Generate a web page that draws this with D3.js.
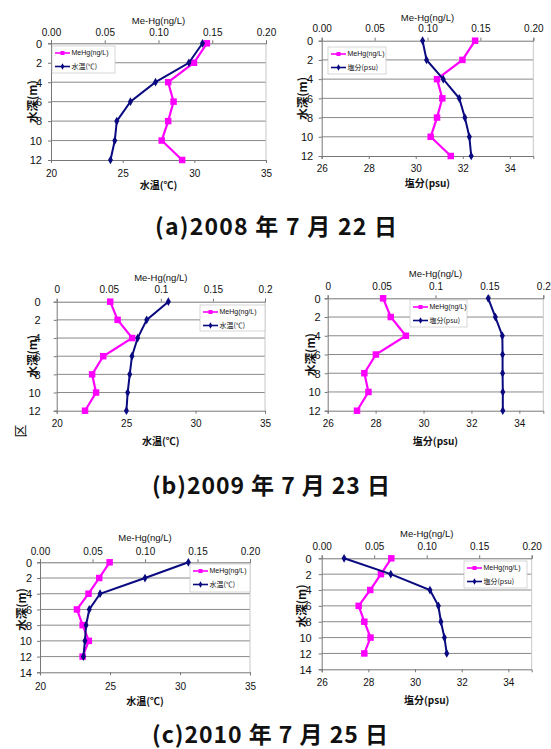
<!DOCTYPE html>
<html>
<head>
<meta charset="utf-8">
<script src="https://cdn.jsdelivr.net/npm/d3@7"></script>
<style>
  body { margin: 0; background: #fff; }
  svg { display: block; }
  text { font-family: "Liberation Sans", Arial, sans-serif; fill: #111; }
  .jp { font-family: "Noto Sans CJK JP", sans-serif; }
</style>
</head>
<body>
<svg id="fig" width="551" height="749"></svg>
<script>
// depth profile data
const depths = [0, 2, 4, 6, 8, 10, 12]

const mehg2008 = [0.145, 0.133, 0.109, 0.114, 0.109, 0.103, 0.122]
const temp2008 = [30.57, 29.62, 27.29, 25.54, 24.59, 24.45, 24.15]
const sal2008 = [30.29, 30.46, 31.17, 31.85, 32.09, 32.28, 32.36]

const mehg2009 = [0.0514, 0.0585, 0.0725, 0.0447, 0.034, 0.0378, 0.0272]
const temp2009 = [28.04, 26.48, 25.83, 25.42, 25.26, 25.11, 25.02]
const sal2009 = [32.7, 33.0, 33.29, 33.3, 33.3, 33.31, 33.31]

const mehg2010 = [0.0663, 0.0564, 0.0462, 0.0352, 0.0406, 0.0465, 0.0406]
const temp2010 = [30.6, 27.5, 24.29, 23.52, 23.29, 23.21, 23.1]
const sal2010 = [26.96, 28.96, 30.64, 31.0, 31.11, 31.26, 31.36]

// ticks
const mehgTicks = [0, 0.05, 0.1, 0.15, 0.2]
const mehgLabelsLong = ['0.00', '0.05', '0.10', '0.15', '0.20']
const mehgLabelsShort = ['0', '0.05', '0.1', '0.15', '0.2']
const tempTicks = [20, 25, 30, 35]
const salTicks = [26, 28, 30, 32, 34]
const depthTicks12 = [0, 2, 4, 6, 8, 10, 12]
const depthTicks14 = [0, 2, 4, 6, 8, 10, 12, 14]

const captions = ['(a)2008 年 7 月 22 日', '(b)2009 年 7 月 23 日', '(c)2010 年 7 月 25 日']
const mehgName = 'MeHg(ng/L)'
const topTitle = 'Me-Hg(ng/L)'
const depthTitle = '水深(m)'
const tempName = '水温(℃)'
const salName = '塩分(psu)'

const PINK = '#ff00ff'
const NAVY = '#0a0a80'

const svg = d3.select('#fig')

// layout of each small chart
const panels = [
  { x0: 51, x1: 266, y0: 43.3, y1: 160, dMax: 12, dTicks: depthTicks12, mehg: mehg2008, other: temp2008,
    oDomain: [20, 35], oTicks: tempTicks, oName: tempName, topLabels: mehgLabelsLong,
    off: { tl: -11, tt: -23, bl: 13, bt: 25, yt: -18, yl: -9 }, leg: { x: 52, y: 46, w: 63, h: 27 } },
  { x0: 321.7, x1: 533.3, y0: 40.7, y1: 156, dMax: 12, dTicks: depthTicks12, mehg: mehg2008, other: sal2008,
    oDomain: [26, 35], oTicks: salTicks, oName: salName, topLabels: mehgLabelsLong,
    off: { tl: -12.5, tt: -23.5, bl: 12, bt: 27, yt: -18.5, yl: -8.5 }, leg: { x: 328, y: 47, w: 58, h: 27 } },
  { x0: 56.7, x1: 265, y0: 301.7, y1: 410.7, dMax: 12, dTicks: depthTicks12, mehg: mehg2009, other: temp2009,
    oDomain: [20, 35], oTicks: tempTicks, oName: tempName, topLabels: mehgLabelsShort,
    off: { tl: -12.5, tt: -24.5, bl: 12.5, bt: 31, yt: -23.5, yl: -16 }, leg: { x: 200, y: 305, w: 65, h: 26 } },
  { x0: 327.7, x1: 543.3, y0: 298.3, y1: 410.7, dMax: 12, dTicks: depthTicks12, mehg: mehg2009, other: sal2009,
    oDomain: [26, 35], oTicks: salTicks, oName: salName, topLabels: mehgLabelsShort,
    off: { tl: -11.5, tt: -24.3, bl: 13.3, bt: 31, yt: -17, yl: -7 }, leg: { x: 410, y: 300, w: 57, h: 27 } },
  { x0: 40, x1: 250, y0: 562.3, y1: 672.3, dMax: 14, dTicks: depthTicks14, mehg: mehg2010, other: temp2010,
    oDomain: [20, 35], oTicks: tempTicks, oName: tempName, topLabels: mehgLabelsLong,
    off: { tl: -11.3, tt: -24.6, bl: 14.4, bt: 29.4, yt: -18.3, yl: -8 }, leg: { x: 190, y: 564, w: 60, h: 28 } },
  { x0: 321.7, x1: 531.7, y0: 558.3, y1: 669.3, dMax: 14, dTicks: depthTicks14, mehg: mehg2010, other: sal2010,
    oDomain: [26, 35], oTicks: salTicks, oName: salName, topLabels: mehgLabelsLong,
    off: { tl: -11.6, tt: -25, bl: 13.4, bt: 30.7, yt: -20, yl: -10 }, leg: { x: 464, y: 561, w: 63, h: 27 } }
]

const captionPos = [
  { x: 155, y: 227, w: 242 },
  { x: 152, y: 486, w: 238 },
  { x: 152, y: 735, w: 236 }
]

function styleAxis(sel) {
  sel.select('.domain').attr('stroke', '#777')
  sel.selectAll('.tick line').attr('stroke', '#777')
  sel.selectAll('text').attr('font-size', 10).attr('fill', '#111')
}

function drawPanel(p) {
  const g = svg.append('g')

  const x = d3.scaleLinear().domain([0, 0.2]).range([p.x0, p.x1])
  const xo = d3.scaleLinear().domain(p.oDomain).range([p.x0, p.x1])
  const y = d3.scaleLinear().domain([0, p.dMax]).range([p.y0, p.y1])

  // horizontal grid
  g.append('g').selectAll('line')
    .data(p.dTicks.filter(d => d > 0 && d < p.dMax))
    .join('line')
    .attr('x1', p.x0).attr('x2', p.x1)
    .attr('y1', d => y(d)).attr('y2', d => y(d))
    .attr('stroke', '#8a8a8a').attr('stroke-width', 1)

  g.append('line')
    .attr('x1', p.x1).attr('x2', p.x1).attr('y1', p.y0).attr('y2', p.y1)
    .attr('stroke', '#c8c8c8')

  // axes
  const top = g.append('g').attr('transform', `translate(0,${p.y0})`)
    .call(d3.axisTop(x).tickValues(mehgTicks).tickFormat((d, i) => p.topLabels[i]).tickSizeOuter(0).tickSize(3))
  top.selectAll('text').attr('y', p.off.tl).attr('dy', '0.35em')
  styleAxis(top)

  const bottom = g.append('g').attr('transform', `translate(0,${p.y1})`)
    .call(d3.axisBottom(xo).tickValues(p.oTicks).tickSizeOuter(0).tickSize(3))
  bottom.selectAll('text').attr('y', p.off.bl).attr('dy', '0.35em')
  styleAxis(bottom)

  const left = g.append('g').attr('transform', `translate(${p.x0},0)`)
    .call(d3.axisLeft(y).tickValues(p.dTicks).tickSizeOuter(0).tickSize(3))
  left.selectAll('text').attr('x', p.off.yl).attr('dy', '0.35em')
  styleAxis(left)
  left.selectAll('text').attr('font-size', 11)

  // axis titles
  g.append('text')
    .attr('x', (p.x0 + p.x1) / 2).attr('y', p.y0 + p.off.tt)
    .attr('text-anchor', 'middle').attr('dy', '0.35em')
    .attr('font-size', 9.5)
    .text(topTitle)

  g.append('text').attr('class', 'jp')
    .attr('x', (p.x0 + p.x1) / 2).attr('y', p.y1 + p.off.bt)
    .attr('text-anchor', 'middle').attr('dy', '0.35em')
    .attr('font-size', 10).attr('font-weight', 700)
    .text(p.oName)

  g.append('text').attr('class', 'jp')
    .attr('transform', `translate(${p.x0 + p.off.yt},${(y(0) + y(12)) / 2}) rotate(-90)`)
    .attr('text-anchor', 'middle').attr('dy', '0.35em')
    .attr('font-size', 11.5).attr('font-weight', 700)
    .text(depthTitle)

  // series
  const lineM = d3.line().x((d, i) => x(p.mehg[i])).y(d => y(d))
  const lineO = d3.line().x((d, i) => xo(p.other[i])).y(d => y(d))

  g.append('path').datum(depths).attr('d', lineM)
    .attr('fill', 'none').attr('stroke', PINK).attr('stroke-width', 2.2)
  g.append('g').selectAll('path').data(depths).join('path')
    .attr('transform', (d, i) => `translate(${x(p.mehg[i])},${y(d)})`)
    .attr('d', d3.symbol(d3.symbolSquare, 42))
    .attr('fill', PINK)

  g.append('path').datum(depths).attr('d', lineO)
    .attr('fill', 'none').attr('stroke', NAVY).attr('stroke-width', 2)
  g.append('g').selectAll('path').data(depths).join('path')
    .attr('transform', (d, i) => `translate(${xo(p.other[i])},${y(d)})`)
    .attr('d', d3.symbol(d3.symbolDiamond, 22))
    .attr('fill', NAVY)

  // legend
  const lg = g.append('g').attr('transform', `translate(${p.leg.x},${p.leg.y})`)
  lg.append('rect').attr('width', p.leg.w).attr('height', p.leg.h)
    .attr('fill', '#fff').attr('stroke', '#bbb').attr('stroke-width', 0.6)
  const items = [
    { name: mehgName, color: PINK, sym: d3.symbolSquare, size: 16 },
    { name: p.oName, color: NAVY, sym: d3.symbolDiamond, size: 12 }
  ]
  items.forEach((it, i) => {
    const yy = 7 + i * 13.5
    lg.append('line').attr('x1', 3).attr('x2', 18).attr('y1', yy).attr('y2', yy)
      .attr('stroke', it.color).attr('stroke-width', 1.6)
    lg.append('path').attr('transform', `translate(10.5,${yy})`)
      .attr('d', d3.symbol(it.sym, it.size)).attr('fill', it.color)
    lg.append('text').attr('class', i === 1 ? 'jp' : null)
      .attr('x', 19.5).attr('y', yy).attr('dy', '0.35em')
      .attr('font-size', 7).text(it.name)
  })
}

panels.forEach(drawPanel)

// captions
captions.forEach((c, i) => {
  const cp = captionPos[i]
  svg.append('text').attr('class', 'jp')
    .attr('x', cp.x).attr('y', cp.y).attr('dy', '0.36em')
    .attr('font-size', 23).attr('font-weight', 700)
    .attr('textLength', cp.w).attr('lengthAdjust', 'spacing')
    .text(c)
})

// scan artifact at the left edge
svg.append('text').attr('class', 'jp')
  .attr('transform', 'translate(20,431) rotate(-90)')
  .attr('text-anchor', 'middle').attr('dy', '0.35em')
  .attr('font-size', 13)
  .text('区')
</script>
</body>
</html>
